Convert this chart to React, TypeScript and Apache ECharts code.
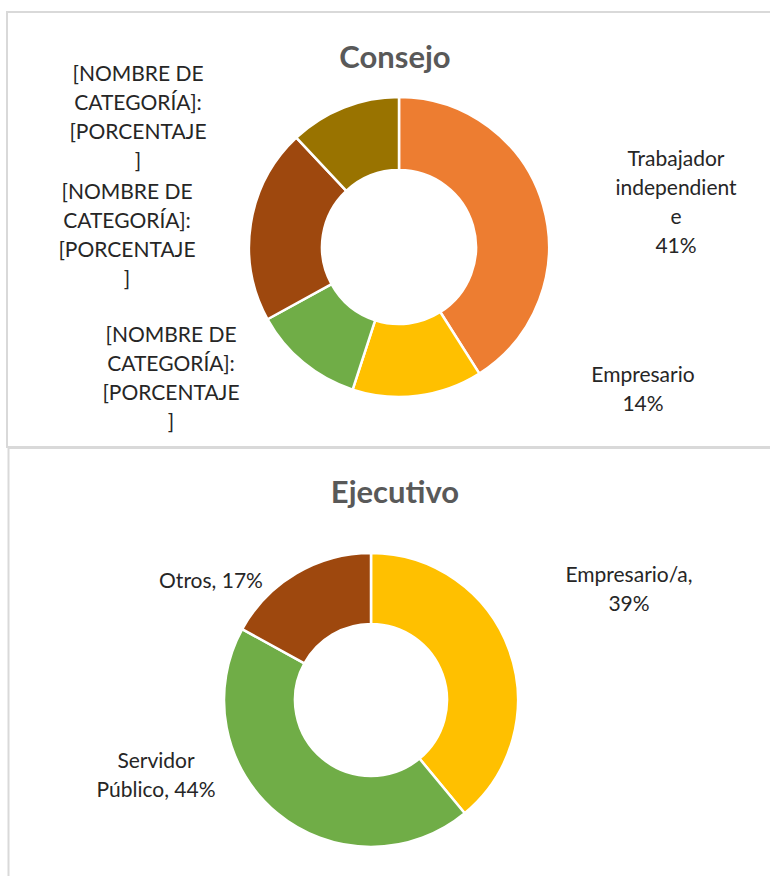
import React, { useEffect, useRef } from "react";
import * as echarts from "echarts";

// ---- Consejo (top donut) ----
const consejoNames = [
  "Trabajador independiente",
  "Empresario",
  "[NOMBRE DE CATEGORÍA]",
  "[NOMBRE DE CATEGORÍA]",
  "[NOMBRE DE CATEGORÍA]",
];
const consejoValues = [41, 14, 12, 21, 12];
const consejoLabels = [
  "Trabajador\nindependient\ne\n41%",
  "Empresario\n14%",
  "[NOMBRE DE\nCATEGORÍA]:\n[PORCENTAJE\n]",
  "[NOMBRE DE\nCATEGORÍA]:\n[PORCENTAJE\n]",
  "[NOMBRE DE\nCATEGORÍA]:\n[PORCENTAJE\n]",
];
const consejoColors = ["#ED7D31", "#FFC000", "#70AD47", "#9E480E", "#997300"];

// ---- Ejecutivo (bottom donut) ----
const ejecutivoNames = ["Empresario/a", "Servidor Público", "Otros"];
const ejecutivoValues = [39, 44, 17];
const ejecutivoLabels = ["Empresario/a,\n39%", "Servidor\nPúblico, 44%", "Otros, 17%"];
const ejecutivoColors = ["#FFC000", "#70AD47", "#9E480E"];

// ---- label placement (layout, not data) ----
const consejoLabelPos = [
  [676, 201],
  [643, 388],
  [171, 377],
  [127, 234],
  [138, 116],
];
const ejecutivoLabelPos = [
  [629, 588],
  [156, 774],
  [211, 579],
];

const FONT = "Lato, 'Open Sans', sans-serif";
const labelStyle = {
  fontFamily: FONT,
  fontSize: 21,
  lineHeight: 29,
  color: "#262626",
};

export default function App() {
  const ref = useRef<HTMLDivElement>(null);

  useEffect(() => {
    if (!ref.current) return;
    const chart = echarts.init(ref.current, undefined, { renderer: "svg" });

    const makeSeries = (
      names: string[],
      values: number[],
      colors: string[],
      labels: string[],
      pos: number[][],
      center: number[],
      radius: number[]
    ) => ({
      type: "pie",
      center,
      radius,
      startAngle: 90,
      clockwise: true,
      avoidLabelOverlap: false,
      itemStyle: { borderColor: "#ffffff", borderWidth: 2.5 },
      emphasis: { disabled: true },
      label: {
        show: true,
        position: "outside",
        formatter: (p: any) => labels[p.dataIndex],
        ...labelStyle,
      },
      labelLine: { show: false },
      labelLayout: (p: any) => ({
        x: pos[p.dataIndex][0],
        y: pos[p.dataIndex][1],
        align: "center",
        verticalAlign: "middle",
      }),
      data: names.map((n, i) => ({
        name: n,
        value: values[i],
        itemStyle: { color: colors[i] },
      })),
    });

    chart.setOption({
      animation: false,
      backgroundColor: "#ffffff",
      graphic: [
        {
          type: "rect",
          shape: { x: 7, y: 12, width: 800, height: 435 },
          style: { fill: "none", stroke: "#D9D9D9", lineWidth: 2 },
          silent: true,
        },
        {
          type: "rect",
          shape: { x: 8.5, y: 448, width: 800, height: 500 },
          style: { fill: "none", stroke: "#D9D9D9", lineWidth: 2 },
          silent: true,
        },
        {
          type: "text",
          x: 395,
          y: 56,
          style: {
            text: "Consejo",
            fill: "#595959",
            font: `bold 31px ${FONT}`,
            textAlign: "center",
            textVerticalAlign: "middle",
          },
          silent: true,
        },
        {
          type: "text",
          x: 395,
          y: 491,
          style: {
            text: "Ejecutivo",
            fill: "#595959",
            font: `bold 31px ${FONT}`,
            textAlign: "center",
            textVerticalAlign: "middle",
          },
          silent: true,
        },
      ],
      series: [
        makeSeries(
          consejoNames,
          consejoValues,
          consejoColors,
          consejoLabels,
          consejoLabelPos,
          [399, 247],
          [77, 150]
        ),
        makeSeries(
          ejecutivoNames,
          ejecutivoValues,
          ejecutivoColors,
          ejecutivoLabels,
          ejecutivoLabelPos,
          [371, 700],
          [76, 147]
        ),
      ],
    });

    return () => chart.dispose();
  }, []);

  return (
    <div
      ref={ref}
      style={{ position: "fixed", left: 0, top: 0, width: 770, height: 876 }}
    />
  );
}
